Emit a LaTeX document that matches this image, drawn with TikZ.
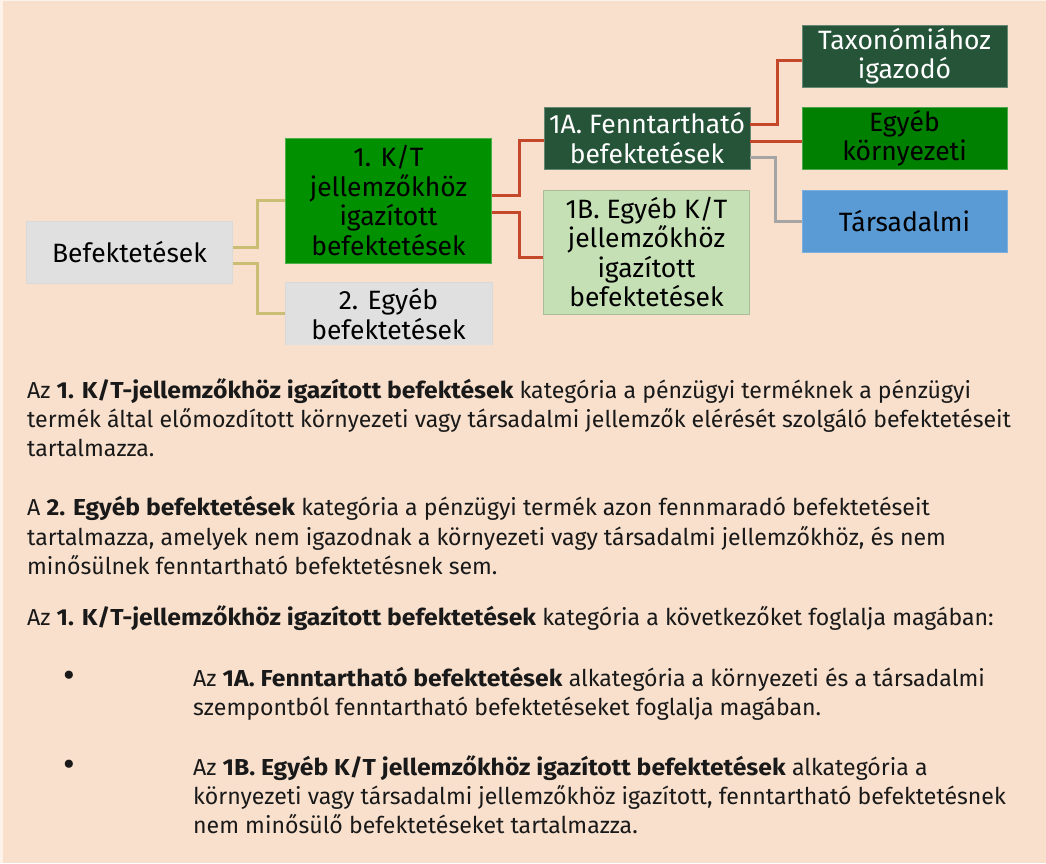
\documentclass[tikz,border=0pt]{standalone}
\usepackage{fontspec}
\setmainfont{Fira Sans}
\newfontfamily\boxfont{Fira Sans}
\newfontfamily\bodyfont{Fira Sans}[BoldFeatures={FakeStretch=1.07}]
\definecolor{bgpeach}{HTML}{F9E0CD}
\definecolor{boxgray}{HTML}{E0E0E0}
\definecolor{ktgreen}{HTML}{009000}
\definecolor{darkgr}{HTML}{255439}
\definecolor{envgreen}{HTML}{008000}
\definecolor{lightgr}{HTML}{C5E0B4}
\definecolor{socblue}{HTML}{5B9BD5}
\definecolor{olivec}{HTML}{C9BE74}
\definecolor{redc}{HTML}{C5482B}
\definecolor{grayc}{HTML}{A5A5A5}
\tikzset{
  bx/.style={minimum width=206pt, inner sep=0pt, align=center,
    font=\boxfont\fontsize{26.5}{29.5}\selectfont, line width=0.8pt},
  olivelink/.style={draw=olivec, line width=3pt},
  redlink/.style={draw=redc, line width=3pt},
  graylink/.style={draw=grayc, line width=3pt},
  bodyline/.style={anchor=base west, inner sep=0pt,
    font=\bodyfont\fontsize{23.1}{28}\selectfont, text=black!90},
  bulletmark/.style={anchor=center, inner sep=0pt,
    font=\bodyfont\fontsize{36}{36}\selectfont, text=black!90},
}
\begin{document}
\begin{tikzpicture}[x=1pt,y=-1pt]
\useasboundingbox (0,0) rectangle (1046,863);
\fill[white!60!bgpeach] (0,0) rectangle (1046,863);
\fill[bgpeach] (3,1) rectangle (1046,863);

% boxes
\node[bx, fill=boxgray, draw=black!15, minimum height=62pt] (bef) at (129.5,252) {Befektetések};
\node[bx, fill=ktgreen, draw=ktgreen!70!white, minimum height=125pt] (kt) at (388.5,200.5) {1. K/T\\jellemzőkhöz\\igazított\\befektetések};
\node[bx, fill=boxgray, minimum height=62pt] (egy) at (388.5,314) {};
\draw[black!15, line width=0.8pt] (egy.south west) -- (egy.north west) -- (egy.north east) -- (egy.south east);
\node[bx, anchor=base, inner sep=0pt] (egyt) at (388.5,339) {2. Egyéb\\befektetések};
\node[bx, fill=darkgr, draw=darkgr!70!white, text=white, minimum height=62pt] (fa) at (647,138) {1A. Fenntartható\\befektetések};
\node[bx, fill=lightgr, draw=lightgr!85!black, minimum height=124pt] (eb) at (646.5,252) {1B. Egyéb K/T\\jellemzőkhöz\\igazított\\befektetések};
\node[bx, fill=darkgr, draw=darkgr!70!white, text=white, minimum width=205pt, minimum height=62pt] (tax) at (904.5,56) {Taxonómiához\\igazodó};
\node[bx, fill=envgreen, draw=envgreen!70!white, minimum width=205pt, minimum height=62pt] (env) at (904.5,138) {Egyéb\\környezeti};
\node[bx, fill=socblue, draw=socblue!80!white, minimum width=205pt, minimum height=62pt] (soc) at (904.5,221) {Társadalmi};

% connectors
\draw[olivelink] ([yshift=5pt]bef.east) -- ++(25,0) |- (kt.west);
\draw[olivelink] ([yshift=-11pt]bef.east) -- ++(25,0) |- ([yshift=1pt]egy.west);
\draw[redlink] ([yshift=5.5pt]kt.east) -- ++(28,0) |- ([yshift=-2pt]fa.west);
\draw[redlink] ([yshift=-11.5pt]kt.east) -- ++(28,0) |- ([yshift=-5pt]eb.west);
\draw[redlink] ([yshift=14pt]fa.east) -- ++(27,0) |- ([yshift=-4pt]tax.west);
\draw[redlink] ([yshift=-3pt]fa.east) -- ([yshift=-3pt]env.west);
\draw[graylink] ([yshift=-19pt]fa.east) -- ++(25,0) |- (soc.west);

% body text
\node[bodyline] (p1a) at (27,398) {Az \textbf{1. K/T-jellemzőkhöz igazított befektések} kategória a pénzügyi terméknek a pénzügyi};
\node[bodyline] (p1b) at (27,427) {termék által előmozdított környezeti vagy társadalmi jellemzők elérését szolgáló befektetéseit};
\node[bodyline] (p1c) at (27,456) {tartalmazza.};
\node[bodyline] (p2a) at (27,515) {A \textbf{2. Egyéb befektetések} kategória a pénzügyi termék azon fennmaradó befektetéseit};
\node[bodyline] (p2b) at (27,545) {tartalmazza, amelyek nem igazodnak a környezeti vagy társadalmi jellemzőkhöz, és nem};
\node[bodyline] (p2c) at (27,574) {minősülnek fenntartható befektetésnek sem.};
\node[bodyline] (p3a) at (27,625) {Az \textbf{1. K/T-jellemzőkhöz igazított befektetések} kategória a következőket foglalja magában:};
\node[bulletmark] (bu1) at (69,679) {•};
\node[bodyline] (b1a) at (193,686) {Az \textbf{1A. Fenntartható befektetések} alkategória a környezeti és a társadalmi};
\node[bodyline] (b1b) at (193,715) {szempontból fenntartható befektetéseket foglalja magában.};
\node[bulletmark] (bu2) at (69,768) {•};
\node[bodyline] (b2a) at (193,775) {Az \textbf{1B. Egyéb K/T jellemzőkhöz igazított befektetések} alkategória a};
\node[bodyline] (b2b) at (193,804) {környezeti vagy társadalmi jellemzőkhöz igazított, fenntartható befektetésnek};
\node[bodyline] (b2c) at (193,833) {nem minősülő befektetéseket tartalmazza.};
\end{tikzpicture}
\end{document}
